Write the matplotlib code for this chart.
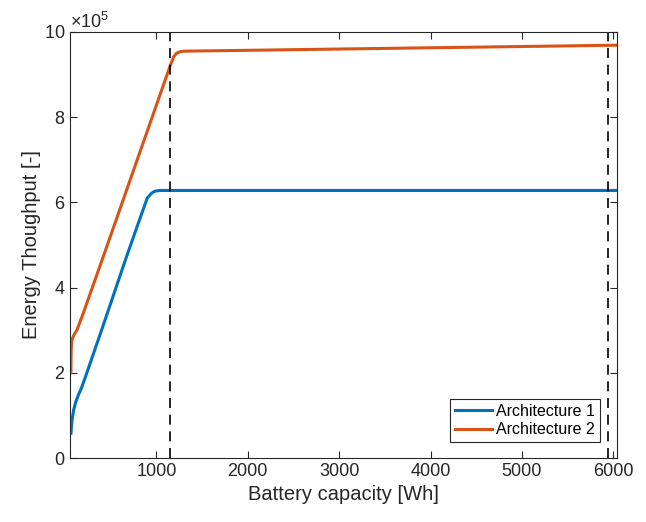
import numpy as np
import matplotlib
matplotlib.use("Agg")
import matplotlib.pyplot as plt
from matplotlib.ticker import ScalarFormatter

plt.rcParams['font.family'] = ['Liberation Sans', 'DejaVu Sans']
plt.rcParams['mathtext.fontset'] = 'custom'
plt.rcParams['mathtext.rm'] = 'Liberation Sans'
plt.rcParams['mathtext.it'] = 'Liberation Sans'

# battery capacity [Wh] and throughput [x1e5]
cap_1 = [65, 72, 80, 95, 120, 150, 176, 220, 300, 400, 661, 800, 900, 940, 970, 1000, 1040, 1100, 2000, 4000, 6040]
thr_1 = [0.58, 0.78, 0.93, 1.13, 1.33, 1.5, 1.62, 1.88, 2.38, 3.0, 4.65, 5.5, 6.1, 6.2, 6.25, 6.27, 6.28, 6.28, 6.28, 6.28, 6.28]

cap_2 = [65, 66, 68, 72, 80, 100, 130, 200, 406, 800, 1153, 1190, 1220, 1260, 1300, 2000, 4000, 6040]
thr_2 = [2.0, 2.3, 2.55, 2.72, 2.8, 2.9, 3.0, 3.4, 4.65, 7.06, 9.22, 9.42, 9.5, 9.54, 9.55, 9.57, 9.63, 9.69]

vlines = [1153, 5942]
labels = ['Architecture 1', 'Architecture 2']

fig = plt.figure(figsize=(6.46, 5.22), dpi=100)
ax = fig.add_axes([0.1084, 0.1226, 0.8467, 0.8161])

ax.plot(cap_1, np.array(thr_1) * 1e5, color='#0072BD', linewidth=2.2, label=labels[0])
ax.plot(cap_2, np.array(thr_2) * 1e5, color='#D95319', linewidth=2.2, label=labels[1])
for v in vlines:
    ax.axvline(v, color='black', linestyle=(0, (6, 4)), linewidth=1.2)

ax.set_xlim(55, 6040)
ax.set_ylim(0, 10e5)
ax.set_xticks([1000, 2000, 3000, 4000, 5000, 6000])
ax.set_yticks(np.arange(0, 11, 2) * 1e5)

fmt = ScalarFormatter(useMathText=True)
fmt.set_powerlimits((5, 5))
ax.yaxis.set_major_formatter(fmt)
ax.yaxis.get_offset_text().set_fontsize(13)
ax.yaxis.get_offset_text().set_color('#262626')

ax.tick_params(direction='in', top=True, right=True, length=5, width=0.8,
               labelsize=13, colors='#262626')
for s in ax.spines.values():
    s.set_color('#262626')
    s.set_linewidth(0.8)

ax.set_xlabel('Battery capacity [Wh]', fontsize=14.5, color='#262626')
ax.set_ylabel('Energy Thoughput [-]', fontsize=14.5, color='#262626', labelpad=2)

leg = ax.legend(loc='lower right', bbox_to_anchor=(0.969, 0.0376), borderaxespad=0,
                fontsize=11.5, fancybox=False, edgecolor='#262626', framealpha=1,
                handlelength=2.3, handletextpad=0.3, borderpad=0.3, labelspacing=0.2)
leg.get_frame().set_linewidth(0.8)

plt.savefig('out.png', dpi=100)
